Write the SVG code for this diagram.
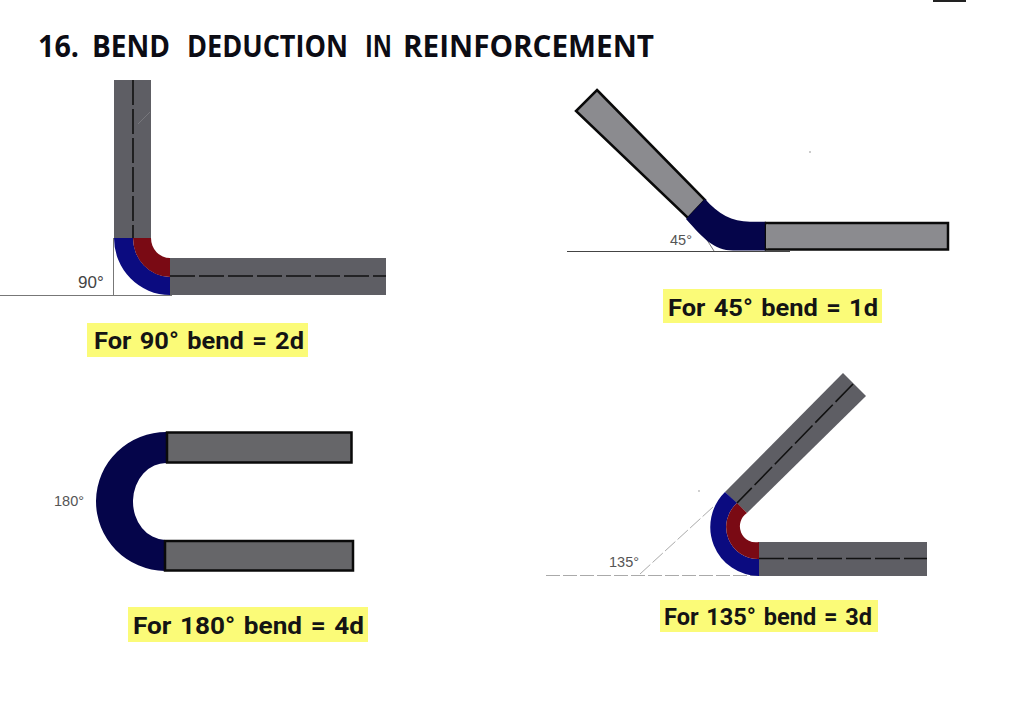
<svg xmlns="http://www.w3.org/2000/svg" width="1024" height="704" viewBox="0 0 1024 704">
<style>
.title{font-family:"Open Sans","Noto Sans",sans-serif;font-weight:700;font-size:29.5px;fill:#0c0c14}
.cap{font-family:Roboto,"Liberation Sans",sans-serif;font-weight:700;font-size:24.5px;word-spacing:2px;fill:#141414}
.ang{font-family:"Liberation Sans",sans-serif;font-size:17px;fill:#444}
.ang2{font-family:"Liberation Sans",sans-serif;font-size:14.5px;fill:#555}
.hl{fill:#fbfb78}
.bar{fill:#5e5e64}
.cl{stroke:#111;stroke-width:1.6;fill:none;stroke-dasharray:25 4}
.blue{fill:#0b0b80}
.red{fill:#7a0a14}
.navy{fill:#05054a}
.thin{stroke:#777;stroke-width:1;fill:none}
.dash{stroke:#aaa;stroke-width:1;fill:none;stroke-dasharray:14 3}
</style>
<rect width="1024" height="704" fill="#fff"/>
<rect x="933" y="0" width="33" height="2" fill="#222"/>
<text class="title" y="57"><tspan x="38" textLength="41" lengthAdjust="spacingAndGlyphs">16.</tspan> <tspan x="92" textLength="78" lengthAdjust="spacingAndGlyphs">BEND</tspan> <tspan x="187" textLength="161" lengthAdjust="spacingAndGlyphs">DEDUCTION</tspan> <tspan x="365" textLength="27" lengthAdjust="spacingAndGlyphs">IN</tspan> <tspan x="403" textLength="251" lengthAdjust="spacingAndGlyphs">REINFORCEMENT</tspan></text>

<g id="bend-90">
<path class="thin" d="M0 295.500H172M113.500 238V295"/>
<rect class="bar" x="114" y="80" width="37" height="158"/>
<path d="M138 124L150 112" stroke="#77777c" stroke-width="1" fill="none"/>
<path class="blue" d="M114 238A56 57 0 0 0 170 295V277A38 39 0 0 1 133 238Z"/>
<path class="red" d="M133 238A37 39 0 0 0 170 277V258A19 20 0 0 1 151 238Z"/>
<rect class="bar" x="170" y="258" width="216" height="37"/>
<path class="cl" d="M133 80V238M170 276H386"/>
<text class="ang" x="78" y="288">90°</text>
<rect class="hl" x="87" y="323" width="221" height="34"/>
<text class="cap" x="94" y="349" textLength="210" lengthAdjust="spacingAndGlyphs">For 90° bend = 2d</text>
</g>

<g id="bend-45">
<path d="M567 251.500H790" stroke="#444" stroke-width="1.200" fill="none"/>
<path class="thin" d="M700 229L714 251"/>
<path d="M597 90L705 200L688 218L576 111Z" fill="#8b8b8f" stroke="#0a0a0a" stroke-width="2.500" stroke-linejoin="miter"/>
<path class="navy" d="M686 219L705 199C718 214 732 221.700 750 221.700H766V250.500H733C714 250.500 703 238 686 219Z"/>
<rect x="766" y="223" width="182" height="26.500" fill="#8b8b8f" stroke="#0a0a0a" stroke-width="2.500"/>
<rect x="766" y="224.300" width="2" height="24" fill="#8b8b8f"/>
<text class="ang2" x="670" y="245" font-size="14">45°</text>
<rect class="hl" x="663" y="289" width="219" height="34"/>
<text class="cap" x="668" y="316" textLength="210" lengthAdjust="spacingAndGlyphs">For 45° bend = 1d</text>
<circle cx="810" cy="152" r="1" fill="#bbb"/>
</g>

<g id="bend-180">
<path class="navy" d="M167 432A70 69.500 0 0 0 165 571V540A33 38.500 0 0 1 167 463Z"/>
<rect x="167" y="432.500" width="184.500" height="30" fill="#666669" stroke="#0a0a0a" stroke-width="2.500"/>
<rect x="165" y="541" width="188" height="29.500" fill="#666669" stroke="#0a0a0a" stroke-width="2.500"/>
<text class="ang2" x="54" y="506">180°</text>
<rect class="hl" x="128" y="607" width="240" height="35"/>
<text class="cap" x="133" y="634" textLength="231" lengthAdjust="spacingAndGlyphs">For 180° bend = 4d</text>
</g>

<g id="bend-135">
<path class="dash" d="M546 575.500H759M640 574L713 507"/>
<circle cx="699" cy="491" r="0.900" fill="#bbb"/>
<path class="bar" d="M843 373L866 396L747 513L725 492Z"/>
<path class="blue" d="M725 492A49 49 0 0 0 759 576V559A32 32 0 0 1 737 503Z"/>
<path class="red" d="M737 503A32 32 0 0 0 759 559V542A16 16 0 0 1 747 513Z"/>
<rect class="bar" x="759" y="542" width="168" height="34"/>
<path class="cl" d="M853 384L737 503M759 558.500H927"/>
<text class="ang2" x="609" y="567" font-size="16">135°</text>
<rect class="hl" x="660" y="600" width="218" height="32"/>
<text class="cap" x="664" y="625" textLength="208" lengthAdjust="spacingAndGlyphs">For 135° bend = 3d</text>
</g>
</svg>
